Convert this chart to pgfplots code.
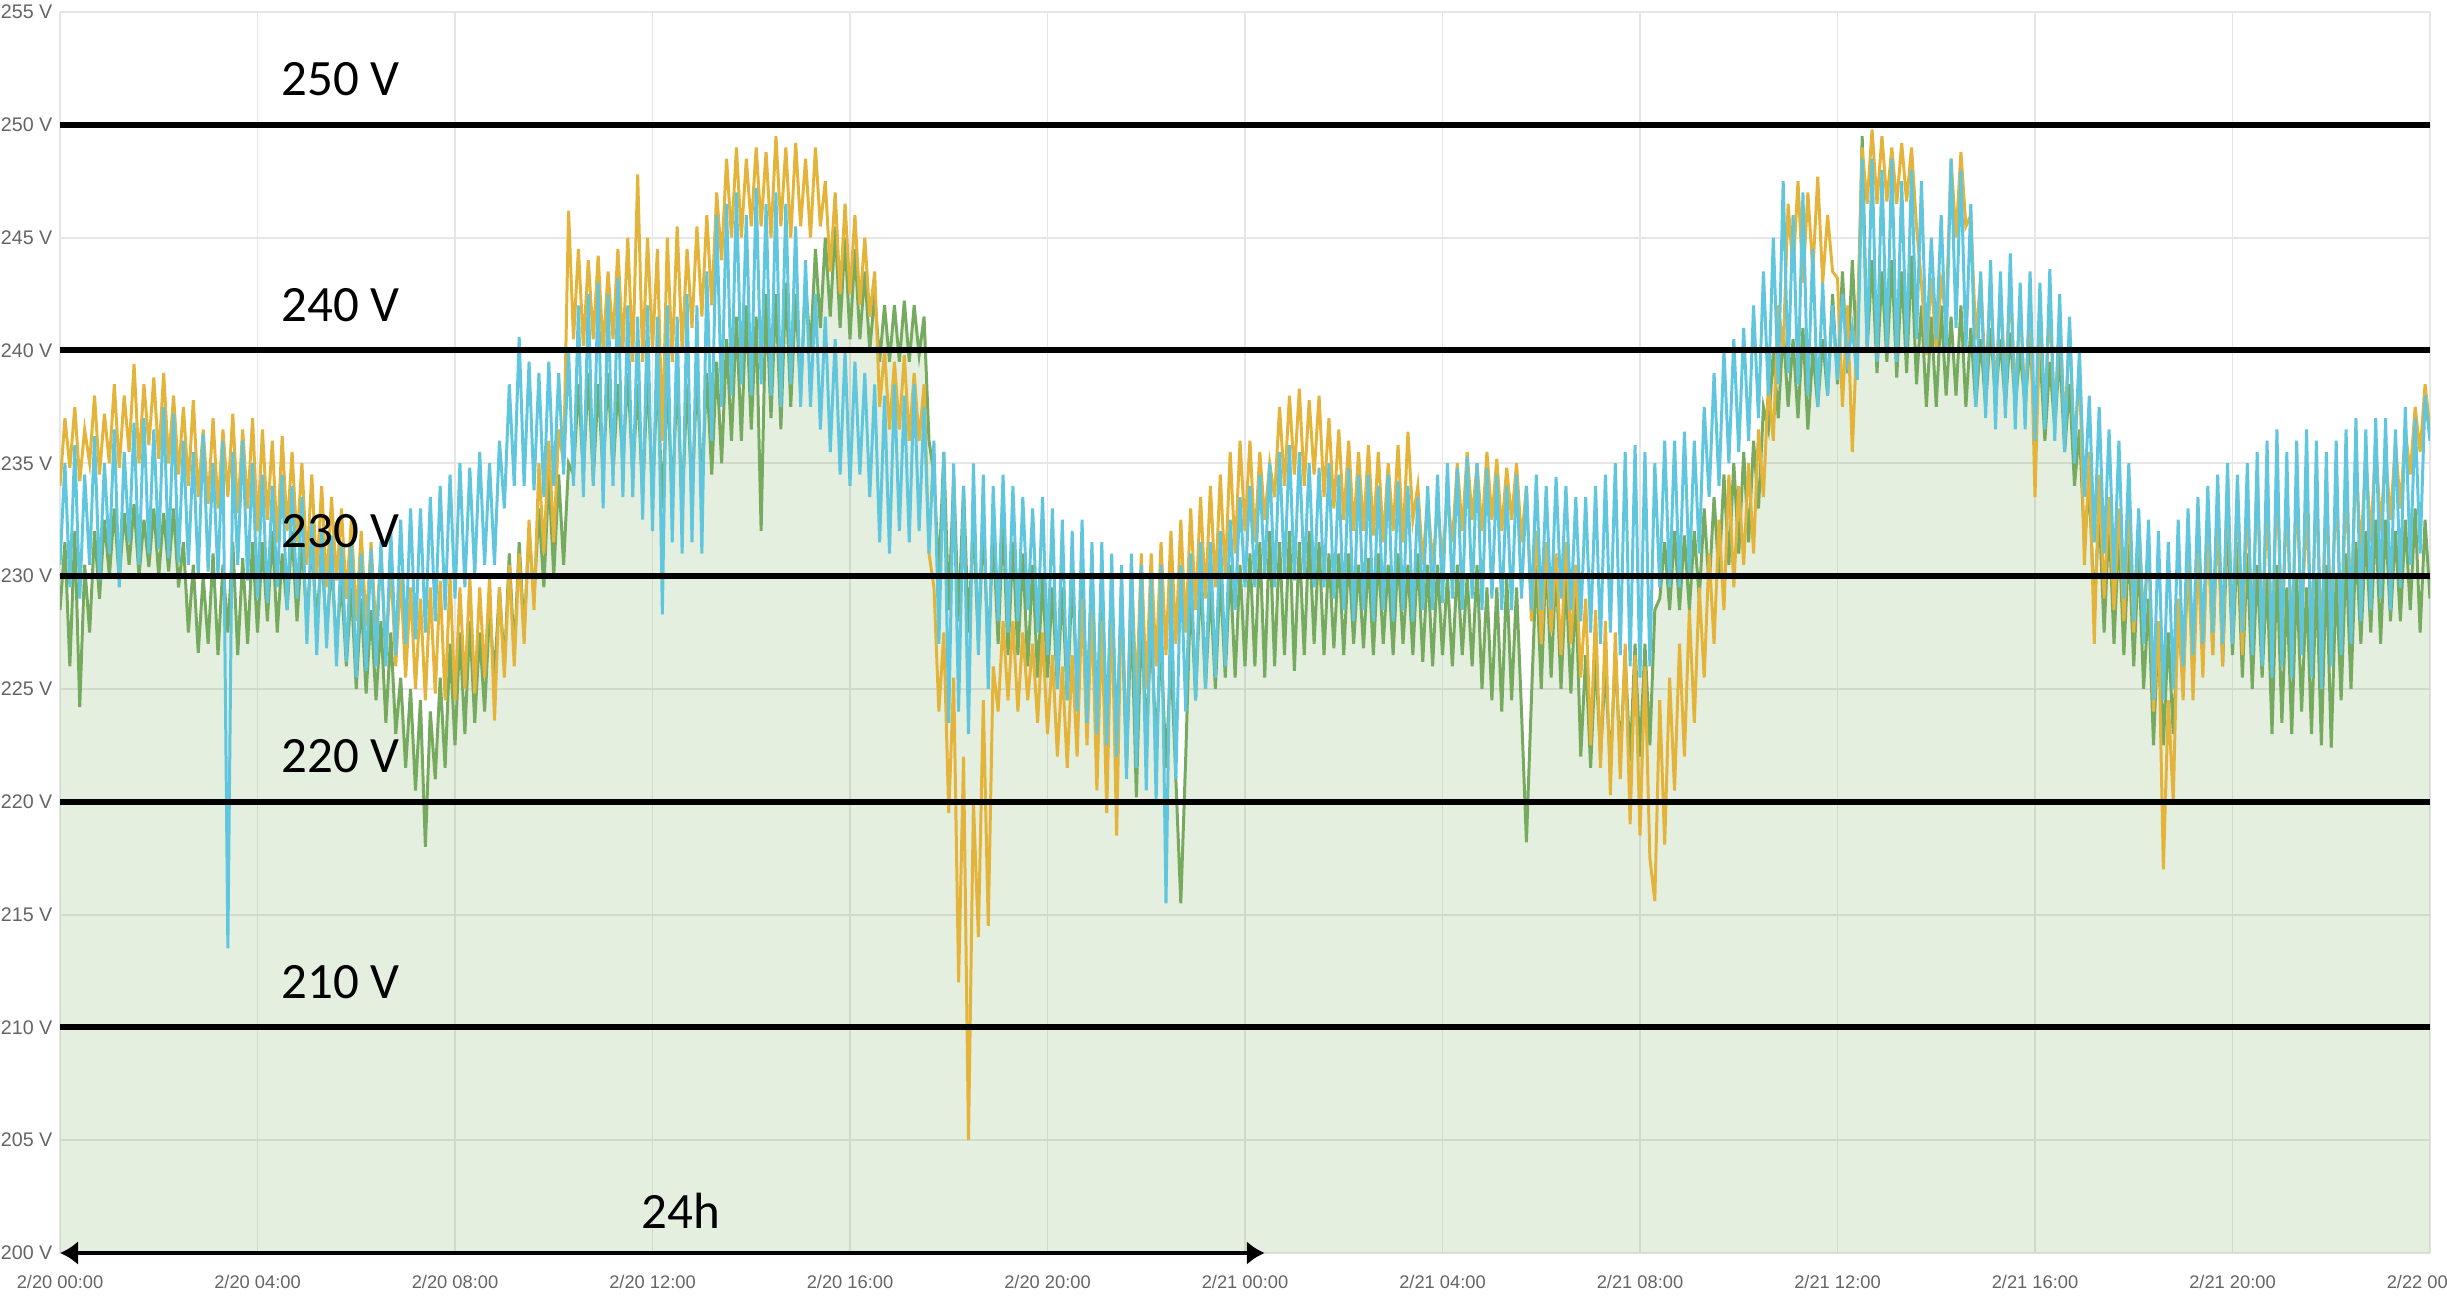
\documentclass[border=0pt]{standalone}
\usepackage{pgfplots}
\pgfplotsset{compat=1.18}
\usepackage{pgfplotstable}
\usepackage{fontspec}
\setmainfont{Liberation Sans}
\newfontfamily\calib{Carlito}
\usetikzlibrary{arrows.meta}
\definecolor{cy}{RGB}{95,198,222}
\definecolor{ye}{RGB}{228,180,58}
\definecolor{gr}{RGB}{118,170,95}
\definecolor{fillgr}{RGB}{112,165,80}
\definecolor{ticktxt}{RGB}{100,100,100}
\definecolor{gridc}{RGB}{230,230,230}

\pgfplotstableread{
t Y G C
0.0 234.0 228.5 230.5
0.1 237.0 231.5 235.0
0.2 234.8 226.0 229.5
0.3 237.5 232.0 235.8
0.4 234.2 224.2 229.0
0.5 236.5 230.5 234.5
0.6 235.0 227.5 230.5
0.7 238.0 232.0 236.2
0.8 234.5 229.0 229.8
0.9 237.2 232.5 235.0
1.0 235.0 230.0 231.0
1.1 238.5 233.0 236.5
1.2 234.8 229.8 229.5
1.3 238.0 232.8 235.5
1.4 235.5 230.5 231.5
1.5 239.4 233.2 236.8
1.6 235.0 230.0 230.5
1.7 238.5 232.5 237.0
1.8 235.8 230.4 231.0
1.9 238.8 233.0 236.5
2.0 235.2 230.0 231.2
2.1 239.0 232.8 237.5
2.2 235.0 230.2 230.8
2.3 238.0 233.0 237.2
2.4 234.5 229.5 230.6
2.5 237.5 231.5 236.0
2.6 234.0 227.5 230.5
2.7 237.8 230.5 235.5
2.8 233.5 226.6 230.0
2.9 236.5 230.0 236.3
3.0 233.2 227.0 230.2
3.1 237.0 231.0 235.0
3.2 233.0 226.5 230.0
3.3 236.5 230.5 236.0
3.4 233.5 227.5 213.5
3.5 237.2 231.5 235.5
3.6 232.8 226.5 230.5
3.7 236.5 230.8 236.0
3.8 233.0 227.0 229.8
3.9 237.0 231.5 235.0
4.0 232.0 227.5 229.0
4.1 236.5 231.5 234.5
4.2 232.5 228.0 228.8
4.3 236.0 232.0 234.0
4.4 231.5 227.5 229.5
4.5 236.2 231.0 234.5
4.6 232.0 228.5 228.5
4.7 235.5 232.0 234.0
4.8 231.5 228.0 229.0
4.9 235.0 231.5 233.5
5.0 230.5 228.0 227.0
5.1 234.5 231.5 232.5
5.2 230.0 228.0 226.5
5.3 234.0 231.0 232.0
5.4 229.5 227.5 226.8
5.5 233.5 230.5 231.8
5.6 229.8 227.0 226.0
5.7 233.0 229.8 231.5
5.8 229.0 226.0 226.2
5.9 232.5 229.5 231.5
6.0 228.0 225.0 225.5
6.1 232.0 229.0 231.0
6.2 227.8 224.8 225.8
6.3 231.5 228.5 231.2
6.4 227.5 224.5 226.0
6.5 231.0 228.0 231.5
6.6 226.5 223.5 226.0
6.7 230.5 227.5 232.0
6.8 226.0 223.0 226.5
6.9 230.0 225.5 232.5
7.0 225.5 221.5 227.0
7.1 229.5 225.0 233.0
7.2 225.0 220.5 227.2
7.3 229.0 224.5 233.0
7.4 224.5 218.0 227.5
7.5 229.5 224.0 233.5
7.6 224.8 221.0 228.0
7.7 229.8 225.5 234.0
7.8 224.5 221.5 228.5
7.9 230.0 227.0 234.5
8.0 224.5 222.5 229.0
8.1 229.5 227.5 235.0
8.2 225.0 223.0 229.5
8.3 230.0 228.0 234.8
8.4 224.8 223.5 230.0
8.5 229.5 227.5 235.5
8.6 225.5 224.0 230.5
8.7 230.0 228.5 235.0
8.8 223.6 225.5 230.5
8.9 229.5 229.5 236.0
9.0 225.5 226.0 233.0
9.1 230.5 231.0 238.5
9.2 226.0 226.5 234.0
9.3 231.0 231.5 240.6
9.4 227.0 227.5 234.0
9.5 232.5 232.0 239.5
9.6 228.5 229.0 233.8
9.7 235.0 233.0 239.0
9.8 231.0 229.5 233.5
9.9 236.0 234.5 239.5
10.0 231.5 230.0 234.0
10.1 236.5 234.5 239.0
10.2 235.0 230.5 234.5
10.3 246.2 235.0 240.0
10.4 240.5 234.5 234.0
10.5 244.5 238.5 242.0
10.6 240.2 234.5 233.5
10.7 244.0 239.0 242.5
10.8 240.5 234.2 234.0
10.9 244.2 238.5 243.0
11.0 240.0 234.5 233.0
11.1 243.5 239.0 242.5
11.2 240.5 234.5 234.0
11.3 244.5 238.5 243.2
11.4 240.0 235.0 233.5
11.5 245.0 239.0 242.0
11.6 239.5 234.5 233.5
11.7 247.8 238.5 241.5
11.8 239.5 233.5 232.5
11.9 245.0 239.0 242.0
12.0 240.0 233.5 232.0
12.1 244.5 239.0 241.5
12.2 236.0 233.0 228.3
12.3 245.0 238.5 242.0
12.4 239.5 233.5 231.5
12.5 245.5 238.8 241.5
12.6 240.0 233.0 231.0
12.7 244.5 238.5 242.5
12.8 241.0 233.5 231.5
12.9 245.5 239.0 242.0
13.0 241.5 234.0 231.0
13.1 246.0 239.0 243.5
13.2 242.0 234.5 236.0
13.3 247.0 239.5 246.0
13.4 244.0 235.0 237.5
13.5 248.5 240.5 246.5
13.6 245.0 236.0 238.0
13.7 249.0 241.5 247.0
13.8 245.0 236.0 238.5
13.9 248.5 242.0 246.0
14.0 245.5 236.5 238.0
14.1 249.0 241.5 247.2
14.2 245.5 232.0 238.5
14.3 248.8 242.5 246.5
14.4 245.0 237.0 238.0
14.5 249.5 242.5 247.0
14.6 245.5 236.5 237.5
14.7 249.0 243.0 246.5
14.8 245.0 237.5 238.5
14.9 249.2 242.5 245.5
15.0 245.5 238.0 237.5
15.1 248.5 243.0 244.0
15.2 245.0 240.0 237.5
15.3 249.0 244.5 242.5
15.4 245.5 241.0 236.5
15.5 247.5 245.0 241.5
15.6 243.5 241.5 235.5
15.7 247.0 245.5 240.5
15.8 242.5 241.0 234.5
15.9 246.5 245.0 240.0
16.0 242.5 240.5 234.0
16.1 246.0 244.5 239.5
16.2 242.0 240.5 234.5
16.3 245.0 243.5 239.0
16.4 241.5 240.0 233.5
16.5 243.5 242.5 238.5
16.6 237.5 239.5 231.5
16.7 240.0 242.0 238.0
16.8 236.5 239.5 231.0
16.9 239.5 242.0 238.5
17.0 236.5 239.5 232.0
17.1 239.8 242.2 238.0
17.2 236.0 239.5 231.5
17.3 239.0 242.0 238.5
17.4 236.0 239.8 232.0
17.5 238.5 241.5 237.5
17.6 231.0 236.0 231.0
17.7 229.5 234.5 236.0
17.8 224.0 230.0 227.0
17.9 227.5 235.5 235.5
18.0 219.5 228.5 223.5
18.1 225.5 234.5 235.0
18.2 212.0 228.0 224.0
18.3 222.0 234.0 234.0
18.4 205.0 227.5 223.0
18.5 220.0 232.5 235.0
18.6 214.0 227.0 226.5
18.7 224.5 232.5 234.5
18.8 214.5 226.5 225.0
18.9 226.0 232.0 234.0
19.0 224.0 227.0 228.0
19.1 228.0 232.5 234.5
19.2 224.5 226.5 227.5
19.3 228.0 231.5 234.0
19.4 224.0 226.5 228.0
19.5 227.5 231.0 233.5
19.6 224.5 226.0 228.5
19.7 227.0 230.5 233.0
19.8 223.5 225.5 227.5
19.9 227.5 230.0 233.5
20.0 223.0 225.5 226.5
20.1 226.5 229.5 233.0
20.2 222.0 225.0 225.0
20.3 226.0 229.5 232.5
20.4 221.5 224.5 224.5
20.5 226.5 230.0 232.0
20.6 222.0 225.0 224.0
20.7 229.0 229.8 232.5
20.8 222.5 224.5 223.5
20.9 228.5 230.0 231.5
21.0 220.5 224.0 223.0
21.1 228.0 229.5 231.5
21.2 219.5 223.5 222.5
21.3 229.0 229.5 231.0
21.4 218.5 223.0 222.0
21.5 229.5 229.0 230.5
21.6 222.0 221.5 221.0
21.7 230.5 228.5 231.0
21.8 224.5 220.2 221.5
21.9 231.0 228.0 230.5
22.0 225.0 223.0 220.5
22.1 231.0 227.5 230.0
22.2 226.0 222.5 220.0
22.3 231.5 227.0 230.5
22.4 226.5 221.5 215.5
22.5 232.0 226.5 230.0
22.6 227.0 221.0 221.0
22.7 232.5 215.5 230.5
22.8 227.5 222.0 224.0
22.9 233.0 229.5 231.0
23.0 228.5 224.5 224.5
23.1 233.5 230.0 231.5
23.2 229.0 225.0 225.0
23.3 234.0 229.5 231.5
23.4 229.5 225.0 225.5
23.5 234.5 230.0 232.0
23.6 230.0 225.5 226.0
23.7 235.5 230.5 232.5
23.8 231.0 225.5 228.5
23.9 236.0 230.5 233.5
24.0 232.0 226.0 229.5
24.1 236.0 231.0 234.0
24.2 231.5 226.0 229.5
24.3 235.5 231.5 234.5
24.4 232.5 225.5 230.0
24.5 235.0 232.0 235.0
24.6 233.5 226.0 229.5
24.7 237.5 231.5 235.5
24.8 234.0 226.5 230.0
24.9 238.0 232.0 235.8
25.0 234.5 225.8 229.8
25.1 238.3 231.5 235.5
25.2 234.0 226.5 230.0
25.3 237.8 232.0 235.0
25.4 234.5 227.0 229.5
25.5 238.0 231.5 234.8
25.6 233.5 226.5 229.5
25.7 237.0 231.0 235.0
25.8 233.0 226.8 229.0
25.9 236.5 231.0 234.5
26.0 232.5 226.5 228.5
26.1 236.0 231.0 234.8
26.2 232.0 227.0 228.0
26.3 235.5 230.5 234.5
26.4 232.0 226.8 228.5
26.5 235.8 230.8 234.5
26.6 231.8 226.5 228.0
26.7 235.5 231.0 234.0
26.8 231.5 227.0 228.5
26.9 235.0 230.5 234.5
27.0 232.0 226.5 228.0
27.1 235.8 231.0 234.2
27.2 231.5 227.0 228.5
27.3 236.4 230.5 234.0
27.4 232.5 226.5 228.0
27.5 234.0 231.0 233.5
27.6 230.5 226.2 228.5
27.7 233.5 230.5 234.0
27.8 230.5 226.0 228.5
27.9 233.0 230.5 234.5
28.0 230.8 226.5 228.8
28.1 233.5 230.0 235.0
28.2 231.5 226.0 229.0
28.3 235.0 230.5 234.8
28.4 232.0 226.5 228.5
28.5 235.5 230.0 235.3
28.6 232.5 226.0 229.0
28.7 235.0 230.5 235.0
28.8 232.0 225.0 228.5
28.9 235.5 229.5 234.8
29.0 232.5 224.5 229.0
29.1 235.2 229.5 234.5
29.2 232.0 224.0 228.5
29.3 234.8 230.0 234.0
29.4 232.5 224.5 228.5
29.5 235.0 229.5 234.5
29.6 231.5 224.0 229.0
29.7 234.0 218.2 234.0
29.8 228.0 224.5 228.5
29.9 232.0 230.5 234.5
30.0 227.0 225.0 228.5
30.1 231.5 231.0 234.0
30.2 227.5 225.5 228.5
30.3 231.0 230.5 234.4
30.4 226.5 225.0 229.0
30.5 231.5 230.0 234.0
30.6 227.0 224.8 228.5
30.7 230.5 229.5 233.5
30.8 225.5 222.0 228.0
30.9 229.0 226.5 233.5
31.0 222.5 221.5 227.5
31.1 228.5 226.5 234.0
31.2 221.5 222.0 227.0
31.3 228.0 226.0 234.5
31.4 220.3 221.5 227.5
31.5 227.5 226.5 235.0
31.6 221.0 222.0 226.5
31.7 227.0 226.5 235.5
31.8 219.0 221.8 226.0
31.9 226.5 227.0 235.8
32.0 218.5 222.0 225.5
32.1 226.0 227.0 235.5
32.2 217.5 222.5 226.0
32.3 215.6 228.5 235.0
32.4 224.5 229.0 229.5
32.5 218.1 231.5 236.0
32.6 225.5 228.5 229.5
32.7 220.5 232.0 236.0
32.8 227.0 228.5 229.5
32.9 222.0 231.8 236.4
33.0 228.5 228.5 230.0
33.1 223.5 232.0 236.0
33.2 229.5 229.0 231.0
33.3 225.5 233.0 237.5
33.4 231.0 229.5 233.5
33.5 227.0 233.5 239.0
33.6 232.5 230.0 234.0
33.7 228.5 234.5 240.0
33.8 234.5 230.5 235.0
33.9 229.5 235.0 240.5
34.0 234.0 231.0 235.5
34.1 230.5 235.5 241.0
34.2 235.0 231.5 236.0
34.3 231.0 236.0 242.0
34.4 236.5 233.0 237.0
34.5 233.5 237.5 243.5
34.6 238.5 236.5 238.0
34.7 236.0 240.0 245.0
34.8 242.0 237.0 238.5
34.9 240.0 241.0 247.5
35.0 246.5 237.5 239.0
35.1 243.5 240.5 246.0
35.2 247.5 237.0 238.5
35.3 243.0 241.0 247.0
35.4 247.0 236.5 238.0
35.5 243.5 240.0 244.5
35.6 247.7 237.5 237.5
35.7 243.0 240.5 243.0
35.8 246.0 238.0 238.0
35.9 243.5 242.5 242.0
36.0 243.2 238.5 238.7
36.1 237.5 243.5 242.5
36.2 242.0 239.0 239.5
36.3 235.5 244.0 241.0
36.4 241.0 239.5 238.7
36.5 249.0 249.5 248.5
36.6 246.5 240.0 240.0
36.7 249.8 244.0 248.5
36.8 246.5 239.0 239.5
36.9 249.5 243.5 248.0
37.0 246.6 239.5 240.0
37.1 249.0 244.0 248.5
37.2 246.5 238.8 239.5
37.3 249.2 243.5 247.5
37.4 246.6 239.0 240.0
37.5 249.0 244.2 248.0
37.6 245.5 238.5 240.5
37.7 243.0 242.0 247.5
37.8 239.8 237.5 240.0
37.9 243.2 241.5 245.0
38.0 240.0 237.5 240.5
38.1 243.0 242.0 246.0
38.2 241.5 238.0 240.0
38.3 248.5 241.5 248.5
38.4 245.0 238.0 241.0
38.5 248.8 242.0 248.0
38.6 245.5 237.5 240.0
38.7 246.0 241.0 246.5
38.8 240.5 237.5 237.5
38.9 243.2 240.5 243.5
39.0 238.5 237.5 237.0
39.1 243.0 241.0 244.0
39.2 238.0 237.8 236.5
39.3 242.5 240.5 243.5
39.4 238.5 237.5 237.0
39.5 242.8 240.8 244.3
39.6 238.0 237.5 236.5
39.7 242.0 240.0 243.0
39.8 237.5 237.5 236.5
39.9 242.5 240.5 243.5
40.0 233.5 236.5 236.0
40.1 241.5 240.0 243.0
40.2 237.5 236.0 236.5
40.3 242.0 239.5 243.6
40.4 237.0 236.5 236.0
40.5 241.5 240.0 242.5
40.6 236.5 235.5 235.5
40.7 241.0 238.5 241.5
40.8 235.5 234.0 235.0
40.9 239.5 236.5 240.0
41.0 230.5 231.5 233.5
41.1 235.5 234.0 238.0
41.2 227.0 228.5 231.5
41.3 234.5 233.0 237.5
41.4 229.0 227.5 231.0
41.5 233.5 232.5 236.5
41.6 228.5 227.0 230.0
41.7 233.0 232.0 236.0
41.8 228.0 226.5 229.0
41.9 233.4 231.5 235.0
42.0 227.5 226.0 228.0
42.1 232.5 231.0 233.0
42.2 228.0 225.0 227.0
42.3 231.5 229.0 232.5
42.4 224.0 222.5 224.5
42.5 228.0 228.0 232.0
42.6 217.0 222.5 224.5
42.7 224.5 227.5 231.5
42.8 220.0 223.0 225.0
42.9 229.0 228.0 232.5
43.0 224.5 225.5 226.0
43.1 231.5 230.5 233.0
43.2 224.5 226.0 226.5
43.3 231.0 231.5 233.5
43.4 225.5 226.5 227.0
43.5 232.5 232.5 234.0
43.6 226.5 226.5 227.5
43.7 233.5 233.0 234.5
43.8 226.0 226.0 227.0
43.9 234.4 232.5 235.0
44.0 227.0 226.5 227.0
44.1 234.0 231.5 234.5
44.2 226.5 225.5 227.5
44.3 233.5 231.0 235.0
44.4 227.5 225.0 226.5
44.5 234.5 230.5 235.5
44.6 227.0 225.5 226.0
44.7 233.5 230.0 236.0
44.8 226.5 223.0 225.5
44.9 234.5 230.5 236.5
45.0 227.5 223.5 226.0
45.1 233.5 229.5 235.5
45.2 227.0 223.0 225.5
45.3 234.0 230.0 236.0
45.4 228.0 224.0 226.5
45.5 233.0 229.5 236.5
45.6 227.5 223.0 225.5
45.7 234.0 230.0 236.0
45.8 227.0 222.5 225.0
45.9 233.5 230.5 235.5
46.0 228.0 222.4 226.0
46.1 234.0 230.0 236.0
46.2 227.5 224.5 226.5
46.3 234.0 231.0 236.5
46.4 228.5 225.0 227.0
46.5 235.0 231.5 237.0
46.6 231.0 227.0 228.0
46.7 235.5 232.0 236.5
46.8 231.5 227.5 228.5
46.9 236.0 232.5 237.0
47.0 232.0 227.0 229.0
47.1 235.5 232.5 237.0
47.2 232.5 228.0 228.5
47.3 236.0 232.0 236.5
47.4 233.0 228.0 229.5
47.5 236.5 232.5 237.5
47.6 234.5 228.5 230.5
47.7 237.5 233.0 237.0
47.8 235.5 227.5 231.0
47.9 238.5 232.5 238.0
48.0 236.5 229.0 236.0
}\volt

\begin{document}
\begin{tikzpicture}
\path[use as bounding box] (-0.60,-0.45) rectangle (23.87,12.53);
\begin{axis}[
  at={(0,0)}, anchor=south west,
  width=23.70cm, height=12.41cm, scale only axis,
  xmin=0, xmax=48, ymin=200, ymax=255,
  clip mode=individual,
  xtick={0,4,...,48},
  xticklabels={2/20 00:00,2/20 04:00,2/20 08:00,2/20 12:00,2/20 16:00,2/20 20:00,2/21 00:00,2/21 04:00,2/21 08:00,2/21 12:00,2/21 16:00,2/21 20:00,2/22 00:00},
  ytick={200,205,...,255},
  yticklabels={200 V,205 V,210 V,215 V,220 V,225 V,230 V,235 V,240 V,245 V,250 V,255 V},
  grid=major,
  major grid style={draw=gridc, line width=0.55pt},
  axis line style={draw=none},
  major tick length=0pt,
  tick style={draw=none},
  xticklabel style={font=\fontsize{5.2}{6}\selectfont, text=ticktxt, inner sep=0pt, anchor=north, yshift=-2.2mm},
  yticklabel style={font=\fontsize{5.6}{6}\selectfont, text=ticktxt, inner sep=0pt, anchor=east, xshift=-0.7mm},
]
\addplot[draw=none, fill=fillgr, fill opacity=0.18] table[x=t, y=G] {\volt} \closedcycle;
\addplot[gr, line width=0.85pt] table[x=t, y=G] {\volt};
\addplot[ye, line width=0.85pt] table[x=t, y=Y] {\volt};
\addplot[cy, line width=0.85pt] table[x=t, y=C] {\volt};

\draw[black, line width=1.7pt] (axis cs:0,210) -- (axis cs:48,210);
\draw[black, line width=1.7pt] (axis cs:0,220) -- (axis cs:48,220);
\draw[black, line width=1.7pt] (axis cs:0,230) -- (axis cs:48,230);
\draw[black, line width=1.7pt] (axis cs:0,240) -- (axis cs:48,240);
\draw[black, line width=1.7pt] (axis cs:0,250) -- (axis cs:48,250);
\node[anchor=base west, inner sep=0pt, font=\calib\fontsize{14.5}{16}\selectfont] at ([yshift=2.9mm]axis cs:4.47,210) {210 V};
\node[anchor=base west, inner sep=0pt, font=\calib\fontsize{14.5}{16}\selectfont] at ([yshift=2.9mm]axis cs:4.47,220) {220 V};
\node[anchor=base west, inner sep=0pt, font=\calib\fontsize{14.5}{16}\selectfont] at ([yshift=2.9mm]axis cs:4.47,230) {230 V};
\node[anchor=base west, inner sep=0pt, font=\calib\fontsize{14.5}{16}\selectfont] at ([yshift=2.9mm]axis cs:4.47,240) {240 V};
\node[anchor=base west, inner sep=0pt, font=\calib\fontsize{14.5}{16}\selectfont] at ([yshift=2.9mm]axis cs:4.47,250) {250 V};
\draw[black, line width=1.4pt, {Latex[length=1.8mm,width=2.4mm]}-{Latex[length=1.8mm,width=2.4mm]}] (axis cs:0,200) -- (axis cs:24.4,200);
\node[anchor=base, inner sep=0pt, font=\calib\fontsize{14.5}{16}\selectfont] at ([yshift=2.5mm]axis cs:12.57,200) {24h};
\end{axis}
\end{tikzpicture}
\end{document}
